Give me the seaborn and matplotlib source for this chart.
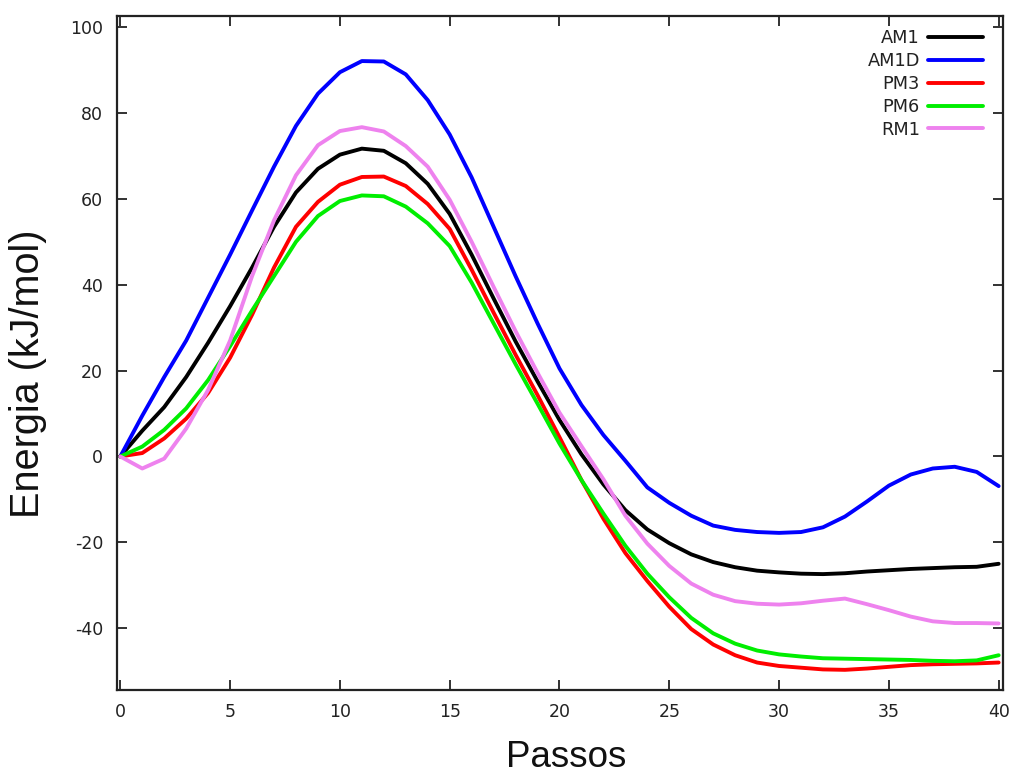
import matplotlib
matplotlib.use("Agg")
import matplotlib.pyplot as plt
import seaborn as sns
import pandas as pd

passos = list(range(41))

am1 = [0, 6, 11.5, 18.5, 26.5, 35, 44, 53.5, 61.5, 67, 70.3, 71.7, 71.2, 68.3, 63.5,
       56.5, 47, 36.8, 26.8, 17.5, 8.5, 0.5, -6.5, -12.5, -17, -20.2, -22.8, -24.6,
       -25.8, -26.6, -27, -27.3, -27.4, -27.2, -26.8, -26.5, -26.2, -26, -25.8, -25.7, -25]
am1d = [0, 9.5, 18.5, 27, 37, 47, 57.3, 67.5, 77, 84.5, 89.5, 92.1, 92.0, 89, 83, 75,
        65, 53.5, 42, 31, 20.5, 12, 5, -1, -7.2, -10.8, -13.8, -16.1, -17.1, -17.6,
        -17.8, -17.6, -16.5, -14, -10.5, -6.8, -4.2, -2.8, -2.4, -3.6, -6.9]
pm3 = [0, 0.8, 4.2, 8.8, 14.8, 23, 33, 44, 53.5, 59.3, 63.3, 65.1, 65.2, 63, 58.8, 53,
       43.5, 33.5, 23.7, 14.3, 4.5, -5.5, -14.5, -22.5, -29, -35, -40.2, -43.8, -46.3,
       -48, -48.8, -49.2, -49.6, -49.7, -49.4, -49, -48.6, -48.4, -48.3, -48.2, -48]
pm6 = [0, 2.3, 6.2, 11.2, 17.8, 25.7, 34, 42, 50, 56, 59.5, 60.8, 60.6, 58.2, 54.3, 49,
       40.5, 31, 21.5, 12.3, 3, -5.5, -13.3, -20.8, -27.3, -32.8, -37.6, -41.2, -43.6,
       -45.2, -46.1, -46.6, -47, -47.1, -47.2, -47.3, -47.4, -47.6, -47.7, -47.5, -46.3]
rm1 = [0, -2.8, -0.5, 6.5, 15.5, 27, 42, 55, 65.5, 72.5, 75.8, 76.7, 75.7, 72.3, 67.5,
       59.8, 50, 39.5, 29.2, 19.5, 10.2, 2.4, -5.3, -13.8, -20.3, -25.5, -29.6, -32.2,
       -33.7, -34.3, -34.5, -34.2, -33.6, -33.1, -34.4, -35.8, -37.3, -38.4, -38.8,
       -38.8, -38.9]

metodos = ["AM1", "AM1D", "PM3", "PM6", "RM1"]
cores = ["#000000", "#0000ff", "#ff0000", "#00ee00", "#ee82ee"]
yticks = [-40, -20, 0, 20, 40, 60, 80, 100]
xticks = [0, 5, 10, 15, 20, 25, 30, 35, 40]

series = [am1, am1d, pm3, pm6, rm1]
df = pd.concat([pd.DataFrame({"Passos": passos, "Energia": s, "Metodo": m})
                for s, m in zip(series, metodos)], ignore_index=True)

sns.set_style("ticks")
plt.rcParams["font.family"] = ["DejaVu Sans"]
plt.rcParams["axes.unicode_minus"] = False

fig = plt.figure(figsize=(10.14, 7.76), dpi=100)
ax = fig.add_axes([0.1154, 0.1108, 0.8738, 0.8686])

sns.lineplot(data=df, x="Passos", y="Energia", hue="Metodo", hue_order=metodos,
             palette=dict(zip(metodos, cores)), linewidth=2.8, ax=ax, legend=True)

ax.set_xlim(-0.15, 40.2)
ax.set_ylim(-54.4, 102.6)
ax.set_xticks(xticks)
ax.set_yticks(yticks)
ax.tick_params(direction="in", top=True, right=True, length=7, width=1.3,
               labelsize=12.5, colors="#222222", labelcolor="#222222")
ax.tick_params(axis="x", pad=9.5)
ax.tick_params(axis="y", pad=10)
for sp in ax.spines.values():
    sp.set_visible(True)
    sp.set_linewidth(1.6)
    sp.set_color("#222222")

ax.set_xlabel("Passos", fontsize=26.5, family="Liberation Sans", color="#111111")
ax.set_ylabel("Energia (kJ/mol)", fontsize=28.5, family="Liberation Sans", color="#111111")
ax.xaxis.set_label_coords(0.507, -0.0745)
ax.yaxis.set_label_coords(-0.079, 0.469)

handles, labels = ax.get_legend_handles_labels()
leg = ax.legend(handles, labels, loc="upper right", bbox_to_anchor=(0.9774, 0.980),
                frameon=False, markerfirst=False, fontsize=12.8, handlelength=3.1,
                handletextpad=0.45, labelspacing=0.27, borderpad=0, borderaxespad=0)
for line in leg.get_lines():
    line.set_linewidth(2.8)
for t in leg.get_texts():
    t.set_color("#222222")

fig.savefig("out.png", dpi=100)
